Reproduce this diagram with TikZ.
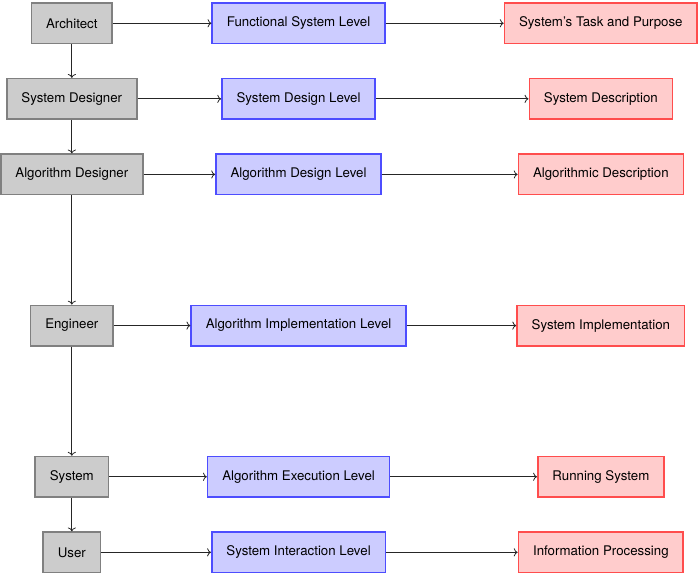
\documentclass[tikz,border=0pt]{standalone}
\usepackage{fontspec}
\setmainfont{TeX Gyre Heros}
\usetikzlibrary{arrows.meta, positioning}
\usepackage{xcolor}
\definecolor{actorfill} {HTML}{CCCCCC}
\definecolor{actorline} {HTML}{808080}
\definecolor{levelfill} {HTML}{CCCCFF}
\definecolor{levelline} {HTML}{4D4DFF}
\definecolor{resfill}   {HTML}{FFCCCC}
\definecolor{resline}   {HTML}{FF4D4D}
\tikzset{
  box/.style     = {draw, line width=1.2pt, minimum height=1.07cm,
                    inner xsep=11pt, align=center},
  actor/.style   = {box, fill=actorfill, draw=actorline},
  level/.style   = {box, fill=levelfill, draw=levelline},
  outcome/.style = {box, fill=resfill,   draw=resline},
  arr/.style     = {->, semithick, black!85},
}
\begin{document}
\begin{tikzpicture}

  % top row
  \node[actor]   (arch) at (0,0)  {Architect};
  \node[level]   (func) at (6,0)  {Functional System Level};
  \node[outcome] (task) at (14,0) {System's Task and Purpose};

  % who works on it
  \node[actor, below=0.888cm of arch] (sdes) {System Designer};
  \node[actor, below=0.888cm of sdes] (ades) {Algorithm Designer};
  \node[actor, below=2.888cm of ades] (eng)  {Engineer};
  \node[actor, below=2.888cm of eng]  (sys)  {System};
  \node[actor, below=0.888cm of sys]  (usr)  {User};

  % levels
  \node[level, below=0.888cm of func] (sdl) {System Design Level};
  \node[level, below=0.888cm of sdl]  (adl) {Algorithm Design Level};
  \node[level, below=2.888cm of adl]  (ail) {Algorithm Implementation Level};
  \node[level, below=2.888cm of ail]  (ael) {Algorithm Execution Level};
  \node[level, below=0.888cm of ael]  (sil) {System Interaction Level};

  % outcomes
  \node[outcome, below=0.888cm of task]  (sdesc) {System Description};
  \node[outcome, below=0.888cm of sdesc] (adesc) {Algorithmic Description};
  \node[outcome, below=2.888cm of adesc] (simpl) {System Implementation};
  \node[outcome, below=2.888cm of simpl] (run)   {Running System};
  \node[outcome, below=0.888cm of run]   (info)  {Information Processing};

  % chain of actors
  \draw[arr] (arch) -- (sdes);
  \draw[arr] (sdes) -- (ades);
  \draw[arr] (ades) -- (eng);
  \draw[arr] (eng)  -- (sys);
  \draw[arr] (sys)  -- (usr);

  % actor -> level -> outcome
  \draw[arr] (arch) -- (func);  \draw[arr] (func) -- (task);
  \draw[arr] (sdes) -- (sdl);   \draw[arr] (sdl)  -- (sdesc);
  \draw[arr] (ades) -- (adl);   \draw[arr] (adl)  -- (adesc);
  \draw[arr] (eng)  -- (ail);   \draw[arr] (ail)  -- (simpl);
  \draw[arr] (sys)  -- (ael);   \draw[arr] (ael)  -- (run);
  \draw[arr] (usr)  -- (sil);   \draw[arr] (sil)  -- (info);

  % small top margin
  \path (arch.north) ++(0,0.06) coordinate (topmargin);

\end{tikzpicture}
\end{document}
